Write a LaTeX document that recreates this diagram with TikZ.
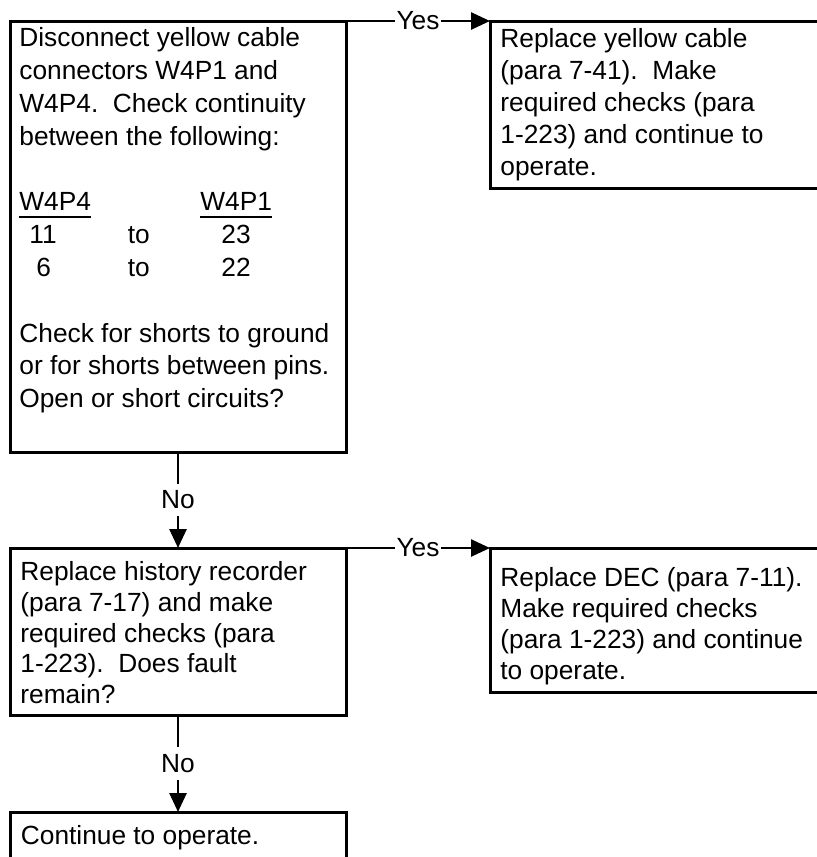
\documentclass[tikz,border=0pt]{standalone}
\usepackage{fontspec}
\setmainfont{Liberation Sans}
\usetikzlibrary{arrows.meta,calc}
% underlined column heading with a heavier rule
\newcommand{\colhead}[1]{\setbox0=\hbox{#1}\rlap{\rule[-3.5pt]{\wd0}{1.1pt}}\box0}
\begin{document}
\begin{tikzpicture}[x=0.5pt,y=-0.5pt,
  frame/.style={draw, line width=1.5pt, rectangle, inner sep=0pt, outer sep=0pt, anchor=north west},
  body/.style={anchor=north west, inner sep=0pt, align=left},
  flow/.style={line width=1.3pt, -{Triangle[length=9.5pt,width=8.5pt]}},
  tag/.style={fill=white, inner xsep=1pt, inner ysep=3.5pt, font=\fontsize{13.15pt}{16pt}\selectfont},
]
\clip (0,0) rectangle (817,857);

% frames
\node[frame, minimum width=168pt, minimum height=215.5pt] (q1) at (10,21) {};
\node[frame, minimum width=175pt, minimum height=83.5pt]  (r1) at (490,21) {};
\node[frame, minimum width=168pt, minimum height=83.5pt]  (q2) at (10,548) {};
\node[frame, minimum width=175pt, minimum height=72pt]    (r2) at (490,548) {};
\node[frame, minimum width=168pt, minimum height=34pt]    (q3) at (10,812) {};

% box texts
\node[body, font=\fontsize{13.15pt}{16.4pt}\selectfont] (t1) at ($(q1.north west)+(9,6.5)$) {%
Disconnect yellow cable\\
connectors W4P1 and\\
W4P4.\ \ Check continuity\\
between the following:\\
\mbox{}\\
\makebox[90.5pt][l]{\colhead{W4P4}}\colhead{W4P1}\\
\makebox[54.25pt][l]{\hspace*{5pt}11}\makebox[46.75pt][l]{to}23\\
\makebox[54.25pt][l]{\hspace*{8.5pt}6}\makebox[46.75pt][l]{to}22\\
\mbox{}\\
Check for shorts to ground\\
or for shorts between pins.\\
Open or short circuits?};

\node[body, font=\fontsize{13.15pt}{16pt}\selectfont] (u1) at ($(r1.north west)+(10,7.5)$) {%
Replace yellow cable\\
(para 7-41).\ \ Make\\
required checks (para\\
1-223) and continue to\\
operate.};

\node[body, font=\fontsize{13.15pt}{15.3pt}\selectfont] (t2) at ($(q2.north west)+(10,13.5)$) {%
Replace history recorder\\
(para 7-17) and make\\
required checks (para\\
1-223).\ \ Does fault\\
remain?};

\node[body, font=\fontsize{13.15pt}{15.5pt}\selectfont] (u2) at ($(r2.north west)+(10,19.5)$) {%
Replace DEC (para 7-11).\\
Make required checks\\
(para 1-223) and continue\\
to operate.};

\node[body, font=\fontsize{13.15pt}{16pt}\selectfont] (t3) at ($(q3.north west)+(10.5,13)$) {%
Continue to operate.};

% connectors
\draw[flow] (q1.north east) -- node[tag] {Yes} (r1.north west);
\draw[flow] (q1.south) -- node[tag] {No} (q2.north);
\draw[flow] (q2.north east) -- node[tag] {Yes} (r2.north west);
\draw[flow] (q2.south) -- node[tag] {No} (q3.north);
\end{tikzpicture}
\end{document}
